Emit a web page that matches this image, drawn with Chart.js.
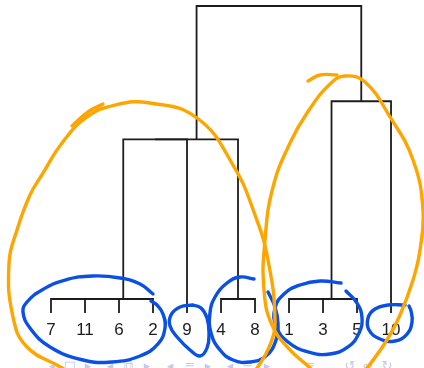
<!DOCTYPE html>
<html>
<head>
<meta charset="utf-8">
<script src="https://cdn.jsdelivr.net/npm/chart.js@4.4.1/dist/chart.umd.min.js"></script>
<style>
  html, body { margin: 0; padding: 0; background: #fff; }
  #wrap { width: 424px; height: 368px; position: relative; }
</style>
</head>
<body>
<div id="wrap"><canvas id="dendro"></canvas></div>
<script>
// leaves in plotting order
const leafLabels = ["7", "11", "6", "2", "9", "4", "8", "1", "3", "5", "10"];

// hclust style merge table: negative = leaf (1-based position), positive = earlier merge row
const mergeLeft = [-1, 1, 2, -6, -8, 5, 3, 7, 6, 8];
const mergeRight = [-2, -3, -4, -7, -9, -10, -5, 4, -11, 9];
const mergeHeight = [0, 0, 0, 0, 0, 0, 2.18, 2.18, 2.70, 4.0];
const leafHang = -0.19;

// hand drawn strokes over the plot, in data units [leaf position, height]
const orangeStrokes = [
  [[1.706, -1.078], [1.324, -0.942], [0.294, -0.655], [-0.118, -0.246], [-0.235, 0.491],
   [0, 0.942], [0.382, 1.42], [0.765, 1.72], [1.324, 2.13], [2.059, 2.485], [2.882, 2.648],
   [3.912, 2.676], [5.294, 2.471], [6.353, 1.829], [7.0, 1.147], [7.382, 0.532],
   [7.588, -0.287], [7.441, -0.628], [7.059, -0.942], [6.794, -1.078]],
  [[1.618, 2.362], [2.088, 2.553], [2.529, 2.662]],
  [[8.853, -1.078], [8.618, -0.942], [8.029, -0.696], [7.5, -0.355], [7.265, 0.123],
   [7.294, 0.805], [7.529, 1.529], [8.029, 2.13], [8.529, 2.539], [9.206, 2.935],
   [9.647, 3.044], [10.235, 2.962], [10.971, 2.485], [11.647, 1.898], [11.941, 1.215],
   [11.853, 0.669], [11.647, 0.259], [11.265, -0.218], [10.882, -0.56], [10.294, -0.942],
   [10.029, -1.078]],
  [[8.559, 2.976], [8.912, 3.058], [9.412, 3.058]]
];
const blueStrokes = [
  [[4.0, 0.068], [3.618, 0.205], [3.029, 0.287], [2.235, 0.314], [1.412, 0.259], [0.735, 0.123],
   [0.294, -0.041], [0.176, -0.177], [0.382, -0.396], [0.971, -0.655], [1.941, -0.833],
   [2.794, -0.86], [3.618, -0.778], [4.147, -0.614], [4.353, -0.396], [4.294, -0.205],
   [4.118, -0.082], [3.941, -0.027]],
  [[5.176, -0.082], [5.412, -0.123], [5.588, -0.259], [5.647, -0.464], [5.588, -0.669],
   [5.382, -0.778], [5.088, -0.696], [4.735, -0.532], [4.5, -0.369], [4.529, -0.218],
   [4.794, -0.109], [5.176, -0.082]],
  [[6.971, 0.273], [6.559, 0.3], [6.176, 0.218], [5.824, 0.027], [5.676, -0.191], [5.706, -0.464],
   [5.971, -0.696], [6.353, -0.833], [6.853, -0.86], [7.324, -0.778], [7.618, -0.56],
   [7.676, -0.328], [7.588, -0.109], [7.382, 0.096]],
  [[9.529, 0.218], [8.912, 0.246], [8.324, 0.191], [7.853, 0.068], [7.588, -0.123], [7.618, -0.369],
   [7.971, -0.587], [8.559, -0.723], [9.206, -0.751], [9.735, -0.655], [10.059, -0.464],
   [10.147, -0.259], [10.0, -0.055], [9.676, 0.109]],
  [[11.412, -0.082], [10.912, -0.082], [10.529, -0.137], [10.324, -0.259], [10.353, -0.423],
   [10.676, -0.546], [11.118, -0.573], [11.471, -0.478], [11.618, -0.314], [11.588, -0.164],
   [11.529, -0.096]]
];

// position of every node
const mergeX = [];
function nodeX(id) {
  return id < 0 ? -id : mergeX[id - 1];
}
function nodeY(id) {
  return id < 0 ? leafHang : mergeHeight[id - 1];
}

const datasets = [];
mergeLeft.forEach((l, i) => {
  const r = mergeRight[i];
  const xl = nodeX(l), xr = nodeX(r);
  mergeX.push((xl + xr) / 2);
  datasets.push({
    data: [
      { x: xl, y: nodeY(l) },
      { x: xl, y: mergeHeight[i] },
      { x: xr, y: mergeHeight[i] },
      { x: xr, y: nodeY(r) }
    ],
    order: 2,
    borderColor: "#1c1c1c",
    borderWidth: 1.8,
    borderJoinStyle: "miter",
    borderCapStyle: "butt",
    pointRadius: 0,
    tension: 0,
    fill: false
  });
});

function strokeSet(pts, color, order) {
  return {
    data: pts.map(p => ({ x: p[0], y: p[1] })),
    order: order,
    borderColor: color,
    borderWidth: 3.4,
    borderCapStyle: "round",
    borderJoinStyle: "round",
    pointRadius: 0,
    tension: 0.45,
    fill: false
  };
}
blueStrokes.forEach(s => datasets.push(strokeSet(s, "#0a4fe6", 1)));
orangeStrokes.forEach(s => datasets.push(strokeSet(s, "#ffa500", 0)));

const navPlugin = {
  id: "nav",
  beforeDraw(chart) {
    const ctx = chart.ctx;
    const glyphs = [
      [52, "◂"], [70, "□"], [88, "▸"], [110, "◂"], [128, "⧉"], [147, "▸"],
      [170, "◂"], [190, "≡"], [208, "▸"], [230, "◂"], [248, "≡"], [267, "▸"],
      [310, "≡"], [350, "↺"], [368, "∾"], [387, "↻"]
    ];
    ctx.save();
    ctx.fillStyle = "#c8c8ea";
    ctx.font = "13px 'DejaVu Sans'";
    ctx.textAlign = "center";
    ctx.textBaseline = "middle";
    glyphs.forEach(g => ctx.fillText(g[1], g[0], 367));
    ctx.restore();
  }
};

const labelPlugin = {
  id: "leafLabels",
  beforeDatasetsDraw(chart) {
    const ctx = chart.ctx;
    const xs = chart.scales.x, ys = chart.scales.y;
    ctx.save();
    ctx.fillStyle = "#1c1c1c";
    ctx.font = "17px 'Liberation Sans', Arial, sans-serif";
    ctx.textAlign = "center";
    ctx.textBaseline = "alphabetic";
    const y = ys.getPixelForValue(leafHang) + 22;
    leafLabels.forEach((lab, i) => {
      ctx.fillText(lab, xs.getPixelForValue(i + 1), y);
    });
    ctx.restore();
  }
};

new Chart(document.getElementById("dendro"), {
  type: "line",
  data: { datasets: datasets },
  options: {
    responsive: true,
    maintainAspectRatio: false,
    animation: false,
    layout: { padding: 0 },
    plugins: { legend: { display: false }, tooltip: { enabled: false } },
    scales: {
      x: { type: "linear", min: -0.5, max: 11.97, display: false },
      y: { type: "linear", min: -0.942, max: 4.082, display: false }
    }
  },
  plugins: [navPlugin, labelPlugin]
});
</script>
</body>
</html>
